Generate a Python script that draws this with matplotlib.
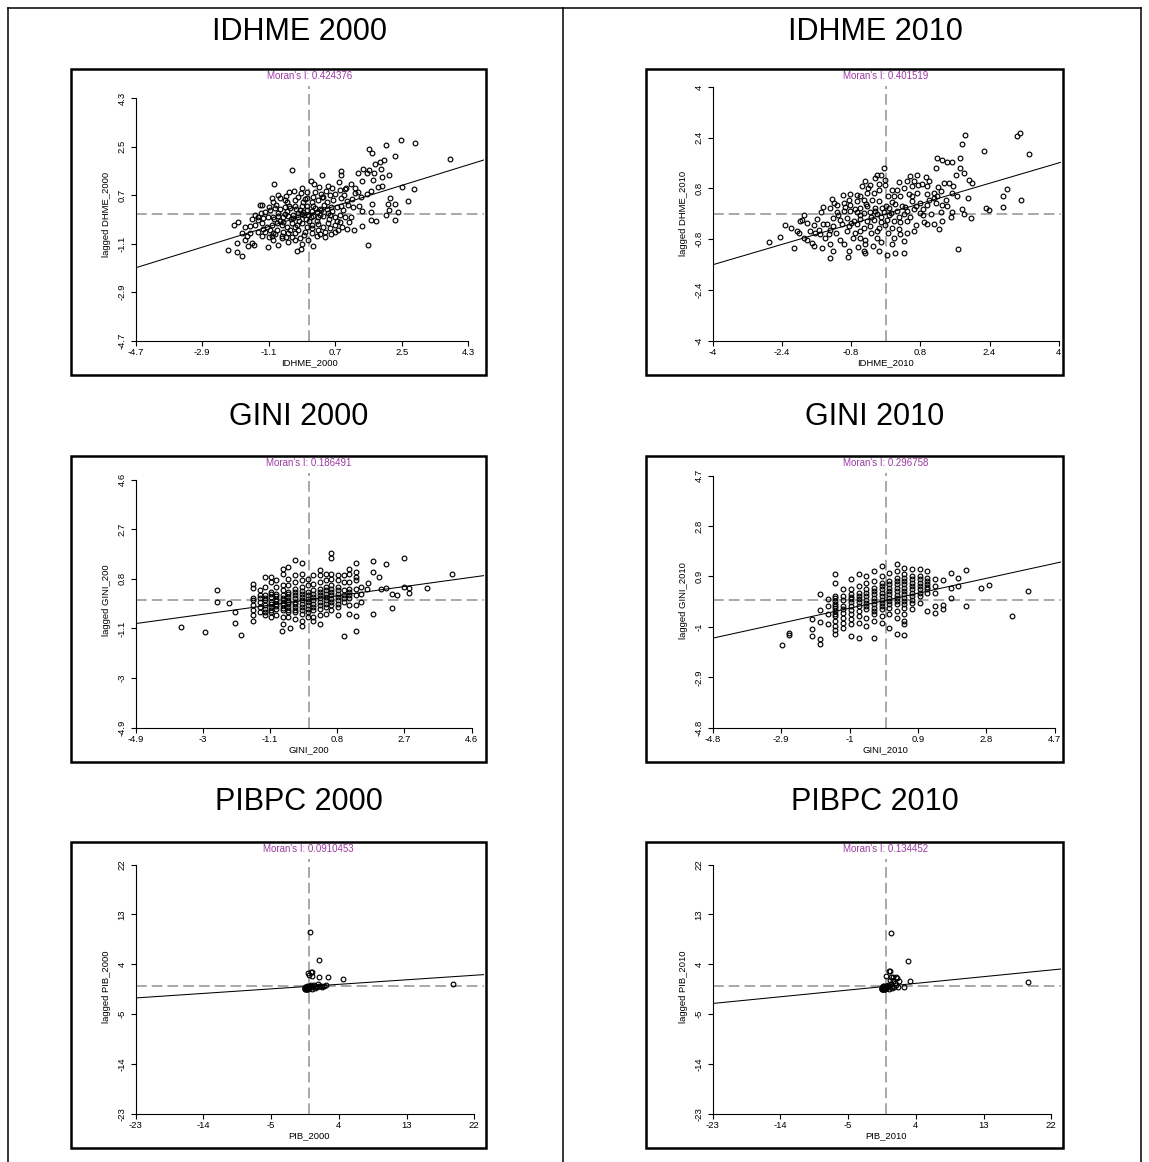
import numpy as np
import matplotlib.pyplot as plt
import matplotlib.transforms as mtransforms
from matplotlib.patches import Rectangle

plt.rcParams['font.family'] = ['Liberation Sans', 'DejaVu Sans']

W, H = 1149, 1162

# (standardized value, spatially lagged value) per municipality
idhme_2000 = [
    (2.47, 2.75), (2.86, 2.65), (2.09, 2.55), (1.62, 2.40), (1.70, 2.28), (2.32, 2.17), (2.02, 2.01), (1.91, 1.92),
    (1.77, 1.86), (3.81, 2.03), (-0.48, 1.64), (1.46, 1.67), (0.86, 1.59), (0.35, 1.46), (0.87, 1.46), (1.32, 1.52),
    (1.55, 1.53), (1.61, 1.62), (1.75, 1.52), (1.95, 1.67), (2.16, 1.43), (1.98, 1.37), (1.73, 1.25), (0.80, 1.19),
    (1.14, 1.13), (1.43, 1.23), (-0.95, 1.10), (0.04, 1.23), (0.12, 1.13), (1.00, 0.96), (0.98, 0.91), (1.23, 0.78),
    (1.31, 0.81), (1.66, 0.86), (1.86, 1.00), (1.97, 1.04), (2.84, 0.92), (2.50, 1.00), (2.18, 0.58), (2.66, 0.48),
    (2.14, 0.37), (2.32, 0.37), (1.71, 0.39), (1.41, 0.64), (1.44, 0.12), (1.68, 0.07), (2.15, 0.15), (2.39, 0.09),
    (2.09, -0.04), (1.68, -0.22), (1.80, -0.25), (2.32, -0.22), (1.44, -0.44), (1.59, -1.15),
    (-2.21, -1.35), (-2.05, -0.40), (-1.92, -0.28), (-1.96, -1.08), (-1.83, -1.57), (-1.95, -1.42), (-1.74, -0.49),
    (-1.69, -0.83), (-1.60, -0.71), (-1.56, -1.08), (-1.65, -1.18), (-1.49, -1.14), (-1.83, -0.71), (-1.56, -0.20),
    (-1.47, -0.04), (-1.38, -0.22), (-1.33, 0.32), (-1.29, 0.32), (-1.11, -1.24), (-0.97, -0.96), (-0.93, -0.74),
    (-0.84, -1.14), (-0.75, -0.89), (-0.59, -1.02), (-0.57, -0.71), (-0.39, -0.71), (-0.34, -1.38), (-0.23, -1.30),
    (-0.19, -1.13), (0.11, -1.18), (0.42, -0.87), (0.60, -0.75), (0.69, -0.65), (0.89, -0.49), (1.01, -0.56),
    (-1.02, 0.58), (-0.97, 0.45), (-0.79, 0.58), (-0.66, 0.51), (-0.55, 0.82), (-0.41, 0.85), (-0.23, 0.78),
    (-0.07, 0.82), (0.15, 0.82), (0.32, 0.76), (0.38, 0.64), (0.56, 0.70), (0.69, 0.76), (0.83, 0.88),
    (-1.20, 0.09), (-1.06, 0.15), (-0.93, 0.21), (-0.79, 0.17), (-0.66, 0.27), (-0.52, 0.21), (-0.39, 0.29),
    (-0.25, 0.15), (-0.16, 0.09), (-0.07, 0.15), (0.06, 0.12), (0.20, 0.09), (0.33, 0.15), (0.47, 0.17),
    (0.60, 0.25), (0.74, 0.27), (0.87, 0.29), (1.05, 0.33), (1.19, 0.27),
    (-1.38, -0.12), (-1.24, -0.16), (-1.11, -0.12), (-0.97, -0.10), (-0.84, -0.07), (-0.70, -0.12), (-0.57, -0.07),
    (-0.43, -0.04), (-0.30, -0.10), (-0.19, 0.00), (-0.03, -0.04), (0.11, -0.07), (0.24, -0.12), (0.38, -0.07),
    (0.56, -0.04), (0.69, -0.12), (0.83, -0.04), (0.96, -0.10), (1.14, -0.12),
    (-1.47, -0.40), (-1.29, -0.34), (-1.15, -0.47), (-1.02, -0.40), (-0.88, -0.32), (-0.75, -0.40), (-0.61, -0.47),
    (-0.48, -0.34), (-0.34, -0.40), (-0.21, -0.32), (-0.07, -0.47), (0.06, -0.40), (0.24, -0.37), (0.38, -0.47),
    (0.51, -0.34), (0.69, -0.40), (0.83, -0.28),
    (-1.20, -0.65), (-1.06, -0.59), (-0.88, -0.59), (-0.70, -0.65), (-0.52, -0.59), (-0.30, -0.59), (-0.12, -0.65),
    (0.06, -0.71), (0.24, -0.59), (0.42, -0.65),
    (-1.29, -0.83), (-1.02, -0.81), (-0.75, -0.81), (-0.48, -0.86), (-0.25, -0.89), (-0.03, -0.96), (0.20, -0.83),
    (-0.61, 0.45), (-0.39, 0.51), (-0.16, 0.45), (0.06, 0.45), (0.24, 0.51), (0.47, 0.45), (0.65, 0.51),
    (0.87, 0.58), (1.01, 0.49),
    (-0.30, 0.05), (-0.10, -0.20), (0.10, 0.30), (-0.50, -0.20), (0.30, 0.20), (-0.20, 0.30), (0.00, -0.25),
    (-0.60, 0.10), (0.50, 0.05), (-0.80, -0.25), (0.20, -0.25), (-0.40, -0.50), (-0.05, 0.60), (-0.90, 0.35),
    (0.35, 0.65),
    (-1.10, 0.25), (-0.95, -0.20), (-0.85, 0.05), (-0.72, -0.28), (-0.65, 0.00), (-0.55, 0.30), (-0.45, -0.15),
    (-0.35, 0.20), (-0.28, -0.25), (-0.15, -0.05), (-0.05, 0.30), (0.05, -0.12), (0.15, 0.22), (0.28, -0.02),
    (0.40, 0.32), (0.52, -0.20), (0.62, 0.10), (0.75, -0.25), (0.92, 0.15), (1.08, -0.30),
    (-1.25, -0.55), (-0.98, -0.72), (-0.62, -0.85), (-0.40, -0.95), (-0.15, -0.78), (0.08, -0.52), (0.30, -0.75),
    (0.55, -0.52), (0.78, -0.58), (-0.85, 0.70), (-0.62, 0.68), (-0.30, 0.62), (-0.12, 0.55), (0.10, 0.65),
    (0.45, 0.85), (0.62, 0.95), (0.95, 0.70), (1.15, 0.55), (1.25, 0.95), (1.55, 0.75),
    (-1.60, -0.45), (-1.75, -0.95), (-1.40, -0.65), (-1.30, 0.05), (-1.10, -0.85), (-0.20, 0.95), (0.25, 1.00),
    (0.50, 1.05), (1.20, -0.60), (1.35, 0.30),
]

idhme_2010 = [
    (1.83, 2.49), (1.77, 2.21), (3.10, 2.54), (3.04, 2.46), (3.32, 1.89), (2.26, 1.97), (1.19, 1.76), (1.31, 1.71),
    (1.42, 1.62), (1.54, 1.62), (1.72, 1.76), (1.15, 1.44), (1.72, 1.44), (1.62, 1.23), (1.81, 1.29), (1.92, 1.08),
    (2.00, 0.97), (1.34, 0.97), (1.46, 0.97), (1.55, 0.87), (1.54, 0.66), (1.27, 0.71), (1.19, 0.55), (1.11, 0.50),
    (1.89, 0.50), (2.72, 0.55), (2.81, 0.78), (3.12, 0.45), (2.72, 0.21), (2.31, 0.17), (2.39, 0.12), (1.77, 0.16),
    (1.81, -0.02), (1.98, -0.13), (1.68, -1.10), (1.23, -0.49), (0.96, -0.31), (1.11, -0.33), (0.88, -0.26),
    (1.31, -0.23), (1.51, -0.10),
    (0.73, 1.23), (0.92, 1.15), (0.65, 1.03), (0.49, 1.05), (0.84, 0.94), (0.96, 0.87), (0.61, 0.87), (0.42, 0.82),
    (0.26, 0.76), (0.34, 0.55), (0.53, 0.61), (0.73, 0.66), (0.96, 0.61), (1.11, 0.66), (0.61, 0.40), (0.80, 0.35),
    (0.96, 0.29), (1.15, 0.35), (1.31, 0.29), (1.42, 0.24), (1.54, 0.06), (1.27, 0.06), (1.04, -0.02), (0.80, 0.03),
    (0.65, 0.14), (0.49, 0.08), (0.38, 0.24),
    (-0.05, 1.44), (-0.12, 1.23), (-0.20, 1.21), (-0.24, 1.13), (-0.36, 0.92), (-0.47, 1.03), (-0.55, 0.87),
    (-0.01, 1.08), (-0.01, 0.92), (-0.16, 0.76), (-0.28, 0.66), (-0.43, 0.66), (-0.59, 0.55), (-0.66, 0.59),
    (-0.82, 0.61), (-0.99, 0.58), (-1.24, 0.48), (-1.44, 0.21), (-1.28, 0.19), (-1.13, 0.29), (-0.97, 0.35),
    (-0.82, 0.29), (-0.66, 0.40), (-0.51, 0.45), (-0.32, 0.45), (-0.16, 0.40), (0.15, 0.75), (0.19, 0.55),
    (0.15, 0.38), (0.07, 0.19), (-0.09, 0.19), (-0.24, 0.19), (-0.43, 0.24), (-0.59, 0.19),
    (-1.13, 0.06), (-0.97, 0.08), (-0.82, 0.10), (-0.66, 0.06), (-0.51, 0.03), (-0.36, 0.06), (-0.20, 0.00),
    (-0.05, 0.06), (0.11, 0.03), (0.26, 0.08), (0.42, 0.00),
    (-1.21, -0.13), (-1.05, -0.18), (-0.90, -0.13), (-0.74, -0.23), (-0.59, -0.15), (-0.43, -0.23), (-0.28, -0.18),
    (-0.12, -0.25), (0.03, -0.18), (0.19, -0.23), (0.34, -0.26), (0.49, -0.23),
    (-1.36, -0.33), (-1.21, -0.39), (-1.01, -0.33), (-0.86, -0.39), (-0.66, -0.33), (-0.51, -0.44), (-0.36, -0.39),
    (-0.16, -0.44), (-0.01, -0.36), (0.15, -0.44), (0.30, -0.49),
    (-2.71, -0.88), (-2.44, -0.72), (-2.33, -0.36), (-2.13, -1.09), (-2.06, -0.54), (-1.98, -0.23), (-1.94, -0.18),
    (-1.90, -0.77), (-1.82, -0.28), (-1.67, -0.36), (-1.63, -0.60), (-1.55, -0.52), (-1.51, -0.65), (-1.82, -0.81),
    (-1.71, -0.91), (-1.67, -1.01), (-1.48, -1.07), (-1.44, -0.33), (-1.40, -0.75), (-1.32, -0.65), (-1.28, -0.96),
    (-1.21, -1.17), (-1.28, -1.38), (-1.05, -0.81), (-0.97, -0.96), (-0.86, -1.17), (-0.88, -1.36), (-0.70, -0.60),
    (-0.59, -0.75), (-0.47, -0.81), (-0.47, -0.94), (-0.51, -1.17), (-0.47, -1.22), (-0.16, -1.17), (-0.12, -0.88),
    (-0.20, -0.75), (0.03, -1.30), (0.22, -1.22), (0.42, -1.22), (0.19, -0.75), (0.34, -0.65), (0.49, -0.60),
    (0.65, -0.54), (0.42, -0.86),
    (-1.10, -0.05), (-0.95, 0.20), (-0.80, -0.30), (-0.70, 0.15), (-0.60, -0.05), (-0.45, 0.30), (-0.35, -0.10),
    (-0.25, 0.10), (-0.12, -0.10), (0.00, 0.25), (0.08, -0.05), (0.22, 0.30), (0.30, -0.10), (0.45, 0.20),
    (0.55, -0.10), (0.70, 0.25), (0.85, 0.15), (1.00, 0.45),
    (-1.60, -0.15), (-1.50, 0.05), (-1.30, -0.50), (-1.15, -0.60), (-0.90, -0.55), (-0.75, -0.75), (-0.60, -0.55),
    (-0.35, -0.60), (-0.20, -0.55), (0.05, -0.60), (0.15, -0.95), (-0.30, -1.00), (-0.65, -1.05),
    (-0.85, 0.45), (-0.40, 0.80), (-0.15, 0.95), (0.05, 0.55), (0.30, 1.00), (0.55, 1.20), (0.75, 0.90),
    (1.00, 1.05), (1.20, 0.85), (1.40, 0.45), (1.65, 0.55), (0.60, 0.55),
    (-2.00, -0.60), (-2.20, -0.45), (-1.75, -0.55), (-1.90, -0.05), (-1.20, 0.35), (0.70, -0.35), (0.85, -0.05),
]

gini_2000 = [
    (-3.63, -1.05), (-2.93, -1.25), (-1.93, -1.35), (-2.60, 0.36), (-2.60, -0.09), (-2.27, -0.13), (-2.08, -0.47),
    (-2.10, -0.89), (-0.76, -1.19), (-0.54, -1.09), (0.63, 1.77), (0.63, 1.58), (0.98, -1.40), (1.33, -1.18),
    (1.33, -0.64), (1.82, -0.56), (2.36, -0.31), (2.68, 1.60), (2.17, 1.35), (1.82, 1.48), (1.33, 1.42),
    (3.34, 0.45), (4.04, 1.00), (2.82, 0.45), (2.68, 0.49), (2.82, 0.26), (2.50, 0.17), (2.36, 0.21), (1.82, 1.07),
    (1.67, 0.65), (1.98, 0.87), (1.65, 0.42), (2.17, 0.45), (2.03, 0.42),
    (-1.57, 0.62), (-1.57, 0.45), (-1.57, -0.03), (-1.57, -0.22), (-1.57, -0.41), (-1.57, -0.60), (-1.57, -0.80),
    (-1.38, 0.36), (-1.38, 0.17), (-1.38, -0.09), (-1.38, -0.28), (-1.38, -0.47),
    (-1.24, 0.87), (-1.24, 0.49), (-1.24, 0.17), (-1.24, -0.03), (-1.24, -0.22), (-1.24, -0.47), (-1.24, -0.60),
    (-1.06, 0.87), (-1.06, 0.68), (-1.06, 0.30), (-1.06, 0.10), (-1.06, -0.09), (-1.06, -0.28), (-1.06, -0.47),
    (-1.06, -0.67),
    (-0.92, 0.74), (-0.92, 0.49), (-0.92, 0.23), (-0.92, 0.04), (-0.92, -0.15), (-0.92, -0.35), (-0.92, -0.60),
    (-0.73, 1.19), (-0.73, 1.00), (-0.73, 0.55), (-0.73, 0.36), (-0.73, 0.17), (-0.73, -0.03), (-0.73, -0.22),
    (-0.73, -0.41), (-0.73, -0.67), (-0.73, -0.92),
    (-0.59, 1.26), (-0.59, 0.81), (-0.59, 0.55), (-0.59, 0.30), (-0.59, 0.10), (-0.59, -0.09), (-0.59, -0.28),
    (-0.59, -0.47), (-0.59, -0.67),
    (-0.40, 1.51), (-0.40, 0.94), (-0.40, 0.68), (-0.40, 0.42), (-0.40, 0.17), (-0.40, -0.09), (-0.40, -0.28),
    (-0.40, -0.47), (-0.40, -0.73),
    (-0.21, 1.39), (-0.21, 1.00), (-0.21, 0.74), (-0.21, 0.49), (-0.21, 0.23), (-0.21, -0.03), (-0.21, -0.28),
    (-0.21, -0.54), (-0.21, -0.80), (-0.21, -0.99),
    (-0.03, 0.81), (-0.03, 0.55), (-0.03, 0.30), (-0.03, 0.04), (-0.03, -0.22), (-0.03, -0.47), (-0.03, -0.67),
    (0.11, 0.94), (0.11, 0.62), (0.11, 0.36), (0.11, 0.10), (0.11, -0.15), (0.11, -0.41), (0.11, -0.67),
    (0.11, -0.80),
    (0.30, 1.13), (0.30, 0.94), (0.30, 0.68), (0.30, 0.42), (0.30, 0.17), (0.30, -0.09), (0.30, -0.35),
    (0.30, -0.60), (0.30, -0.92),
    (0.49, 1.00), (0.49, 0.74), (0.49, 0.49), (0.49, 0.23), (0.49, -0.03), (0.49, -0.28), (0.49, -0.54),
    (0.63, 1.00), (0.63, 0.81), (0.63, 0.55), (0.63, 0.30), (0.63, 0.04), (0.63, -0.22), (0.63, -0.41),
    (0.81, 0.94), (0.81, 0.74), (0.81, 0.49), (0.81, 0.23), (0.81, -0.03), (0.81, -0.28), (0.81, -0.60),
    (0.98, 0.94), (0.98, 0.68), (0.98, 0.36), (0.98, 0.17), (0.98, -0.09),
    (1.14, 1.19), (1.14, 1.00), (1.14, 0.68), (1.14, 0.42), (1.14, 0.17), (1.14, -0.22), (1.14, -0.54),
    (1.33, 1.07), (1.33, 0.87), (1.33, 0.74), (1.33, 0.42), (1.33, 0.17), (1.33, -0.22),
    (1.47, 0.49), (1.47, 0.23), (1.47, -0.09),
    (-1.57, 0.08), (-1.38, 0.05), (-1.24, 0.05), (-1.24, -0.35), (-1.06, 0.20), (-1.06, -0.18), (-1.06, -0.38),
    (-0.92, 0.13), (-0.92, -0.05), (-0.92, -0.25), (-0.73, 0.07), (-0.73, -0.12), (-0.73, -0.32), (-0.59, 0.20),
    (-0.59, 0.00), (-0.59, -0.18), (-0.59, -0.38), (-0.40, 0.30), (-0.40, 0.05), (-0.40, -0.18), (-0.40, -0.38),
    (-0.21, 0.35), (-0.21, 0.10), (-0.21, -0.15), (-0.21, -0.40), (-0.03, 0.17), (-0.03, -0.09), (-0.03, -0.35),
    (0.11, 0.23), (0.11, -0.02), (0.11, -0.28), (0.30, 0.30), (0.30, 0.05), (0.30, -0.22), (0.49, 0.36),
    (0.49, 0.10), (0.49, -0.15), (0.63, 0.42), (0.63, 0.17), (0.63, -0.09), (0.81, 0.36), (0.81, 0.10),
    (0.81, -0.15), (0.98, 0.05), (1.14, 0.30), (1.14, 0.05),
]

gini_2010 = [
    (-2.87, -1.69), (-2.69, -1.22), (-2.69, -1.31), (-2.04, -1.35), (-1.83, -1.47), (-1.83, -1.64), (-2.04, -1.09),
    (-2.04, -0.72), (-1.83, -0.81), (-1.83, -0.38), (-1.83, 0.23), (-1.61, 0.06), (-1.61, -0.21), (-1.61, -0.53),
    (-1.61, -0.88), (-1.40, 0.98), (-1.40, 0.67), (3.96, 0.35), (3.50, -0.59), (2.65, 0.45), (2.86, 0.58),
    (2.24, 1.14), (2.24, -0.21), (1.82, 1.04), (1.82, 0.48), (1.82, 0.08), (1.59, 0.77), (1.59, -0.19),
    (1.59, -0.34), (1.36, -0.21), (1.36, -0.49), (1.16, -0.40), (2.01, 0.86), (2.01, 0.54),
    (-1.40, 0.16), (-1.40, -0.03), (-1.40, -0.21), (-1.40, -0.40), (-1.40, -0.59), (-1.40, -0.78), (-1.40, -0.97),
    (-1.40, -1.12), (-1.40, -1.28),
    (-1.19, 0.42), (-1.19, 0.16), (-1.19, -0.21), (-1.19, -0.46), (-1.19, -0.65), (-1.19, -0.84), (-1.19, -1.03),
    (-0.97, 0.79), (-0.97, 0.42), (-0.97, 0.23), (-0.97, 0.04), (-0.97, -0.21), (-0.97, -0.53), (-0.97, -0.72),
    (-0.97, -0.91), (-0.97, -1.35),
    (-0.75, 0.98), (-0.75, 0.54), (-0.75, 0.29), (-0.75, 0.04), (-0.75, -0.21), (-0.75, -0.59), (-0.75, -0.84),
    (-0.75, -1.41),
    (-0.54, 0.92), (-0.54, 0.67), (-0.54, 0.42), (-0.54, 0.16), (-0.54, -0.09), (-0.54, -0.34), (-0.54, -0.65),
    (-0.54, -0.97),
    (-0.32, 1.11), (-0.32, 0.73), (-0.32, 0.48), (-0.32, 0.23), (-0.32, -0.03), (-0.32, -0.28), (-0.32, -0.53),
    (-0.32, -0.78), (-0.32, -1.41),
    (-0.11, 1.30), (-0.11, 0.92), (-0.11, 0.67), (-0.11, 0.42), (-0.11, 0.16), (-0.11, -0.09), (-0.11, -0.34),
    (-0.11, -0.59), (-0.11, -0.84),
    (0.10, 1.04), (0.10, 0.73), (0.10, 0.48), (0.10, 0.23), (0.10, -0.03), (0.10, -0.28), (0.10, -0.53),
    (0.10, -1.03),
    (0.32, 1.36), (0.32, 1.11), (0.32, 0.86), (0.32, 0.60), (0.32, 0.35), (0.32, 0.10), (0.32, -0.15),
    (0.32, -0.40), (0.32, -0.65), (0.32, -1.28),
    (0.52, 1.23), (0.52, 0.98), (0.52, 0.73), (0.52, 0.48), (0.52, 0.23), (0.52, -0.03), (0.52, -0.28),
    (0.52, -0.53), (0.52, -0.78), (0.52, -0.91), (0.52, -1.32),
    (0.72, 1.17), (0.72, 0.92), (0.72, 0.67), (0.72, 0.42), (0.72, 0.16), (0.72, -0.09), (0.72, -0.34),
    (0.95, 1.17), (0.95, 0.92), (0.95, 0.67), (0.95, 0.42), (0.95, 0.16), (0.95, -0.09),
    (1.16, 1.11), (1.16, 0.86), (1.16, 0.60), (1.16, 0.42), (1.16, 0.29),
    (1.38, 0.79), (1.38, 0.54), (1.38, 0.29),
    (-1.40, 0.07), (-1.40, -0.12), (-1.40, -0.30), (-1.40, -0.50), (-1.19, 0.03), (-1.19, -0.34), (-0.97, 0.13),
    (-0.97, -0.08), (-0.97, -0.37), (-0.75, 0.16), (-0.75, -0.08), (-0.75, -0.40), (-0.54, 0.29), (-0.54, 0.03),
    (-0.54, -0.22), (-0.32, 0.35), (-0.32, 0.10), (-0.32, -0.15), (-0.32, -0.40), (-0.11, 0.54), (-0.11, 0.29),
    (-0.11, 0.03), (-0.11, -0.22), (0.10, 0.60), (0.10, 0.35), (0.10, 0.10), (0.10, -0.15), (0.32, 0.73),
    (0.32, 0.48), (0.32, 0.22), (0.32, -0.03), (0.52, 0.85), (0.52, 0.60), (0.52, 0.35), (0.52, 0.10),
    (0.52, -0.15), (0.72, 0.80), (0.72, 0.54), (0.72, 0.29), (0.72, 0.03), (0.95, 0.80), (0.95, 0.54),
    (0.95, 0.29), (1.16, 0.73), (1.16, 0.50),
]

pib_2000 = [
    (0.22, 9.80), (1.40, 4.70), (-0.05, 2.50), (0.30, 2.60), (0.50, 2.60), (0.10, 2.00), (0.40, 1.85),
    (1.40, 1.70), (2.50, 1.60), (4.60, 1.25), (19.20, 0.48),
    (-0.55, -0.35), (-0.50, -0.30), (-0.45, -0.40), (-0.40, -0.25), (-0.35, -0.35), (-0.30, -0.30), (-0.25, -0.40),
    (-0.20, -0.20), (-0.15, -0.30), (-0.10, -0.35), (-0.50, -0.10), (-0.40, -0.05), (-0.30, -0.15), (-0.20, 0.00),
    (-0.10, -0.10), (0.00, 0.10), (0.10, -0.20), (0.20, 0.05), (-0.45, -0.50), (-0.35, -0.55), (-0.25, -0.45),
    (-0.15, -0.50), (-0.05, -0.40), (0.05, -0.25), (0.30, 0.20), (0.50, -0.10), (0.70, 0.30), (0.90, 0.00),
    (1.10, -0.20), (1.30, 0.10), (1.60, 0.15), (2.00, 0.10), (0.40, -0.50), (0.80, -0.30), (1.20, 0.40),
    (1.70, -0.20), (2.30, 0.30),
]

pib_2010 = [
    (0.66, 9.70), (2.90, 4.60), (0.40, 2.70), (0.60, 2.70), (0.10, 1.80), (0.75, 1.74), (1.40, 1.74),
    (1.55, 1.44), (1.75, 0.96), (3.20, 1.05), (2.40, -0.10), (1.00, 1.60), (0.60, 1.20), (18.90, 0.84),
    (-0.55, -0.40), (-0.50, -0.30), (-0.45, -0.45), (-0.40, -0.20), (-0.35, -0.35), (-0.30, -0.30), (-0.25, -0.45),
    (-0.20, -0.15), (-0.15, -0.30), (-0.10, -0.40), (-0.50, -0.05), (-0.40, 0.00), (-0.30, -0.10), (-0.20, 0.05),
    (-0.10, -0.05), (0.00, 0.15), (0.10, -0.20), (0.20, 0.10), (-0.45, -0.55), (-0.35, -0.50), (-0.25, -0.55),
    (-0.15, -0.50), (-0.05, -0.45), (0.05, -0.30), (0.30, 0.30), (0.50, -0.10), (0.70, 0.45), (0.90, 0.10),
    (1.10, -0.20), (1.20, 0.60), (1.40, 0.20), (0.40, -0.45), (0.80, -0.30), (1.00, 0.90), (1.60, -0.15),
]

titles = ['IDHME 2000', 'IDHME 2010', 'GINI 2000', 'GINI 2010', 'PIBPC 2000', 'PIBPC 2010']
moran_i = [0.424376, 0.401519, 0.186491, 0.296758, 0.0910453, 0.134452]
x_labels = ['IDHME_2000', 'IDHME_2010', 'GINI_200', 'GINI_2010', 'PIB_2000', 'PIB_2010']
y_labels = ['lagged DHME_2000', 'lagged DHME_2010', 'lagged GINI_200', 'lagged GINI_2010',
            'lagged PIB_2000', 'lagged PIB_2010']
tick_labels = [
    ['-4.7', '-2.9', '-1.1', '0.7', '2.5', '4.3'],
    ['-4', '-2.4', '-0.8', '0.8', '2.4', '4'],
    ['-4.9', '-3', '-1.1', '0.8', '2.7', '4.6'],
    ['-4.8', '-2.9', '-1', '0.9', '2.8', '4.7'],
    ['-23', '-14', '-5', '4', '13', '22'],
    ['-23', '-14', '-5', '4', '13', '22'],
]
series = [idhme_2000, idhme_2010, gini_2000, gini_2010, pib_2000, pib_2010]
# plotting window (x max, y max); lower limits are the first tick
upper = [(4.73, 4.75), (4.05, 4.03), (4.95, 4.85), (4.87, 4.8), (23.3, 23.0), (23.3, 23.0)]

fig = plt.figure(figsize=(W / 100, H / 100), dpi=100)

# page layer in pixel units: table rules, boxes, headings
bg = fig.add_axes([0, 0, 1, 1])
bg.set_xlim(0, W)
bg.set_ylim(H, 0)
bg.axis('off')
for xr in (8, 563, 1141):
    bg.plot([xr, xr], [8, H], color='black', lw=1.1)
bg.plot([8, 1141], [8, 8], color='black', lw=1.1)

col_frame = [(71, 486), (646, 1063)]
col_axes = [(135.7, 484), (712.7, 1061)]
col_title = [299, 875]
row_frame = [69, 456, 842]
row_title = [32, 417, 802]

for i in range(6):
    r, c = divmod(i, 2)
    fl, fr = col_frame[c]
    ft = row_frame[r]
    bg.add_patch(Rectangle((fl, ft), fr - fl, 306, fill=False, ec='black', lw=1.8))
    bg.text(col_title[c], row_title[r], titles[i], fontsize=22, ha='center', va='center')

    al, ar = col_axes[c]
    at, ab = ft + 17, ft + 271.7
    ax = fig.add_axes([al / W, 1 - ab / H, (ar - al) / W, (ab - at) / H])
    ax.set_facecolor('none')

    ticks = [float(t) for t in tick_labels[i]]
    xmax, ymax = upper[i]
    ax.set_xlim(ticks[0], xmax)
    ax.set_ylim(ticks[0], ymax)

    pts = np.array(series[i])
    ax.plot(pts[:, 0], pts[:, 1], 'o', ms=3.4, mfc='none', mec='black', mew=0.85, zorder=3)

    ax.axvline(0, color='#a8a8a8', lw=1.4, ls=(0, (5.5, 2.6)), zorder=1)
    ax.axhline(0, color='#a8a8a8', lw=1.4, ls=(0, (5.5, 2.6)), zorder=1)

    xs = np.array([ticks[0], xmax])
    ax.plot(xs, moran_i[i] * xs, color='black', lw=0.75, zorder=2)

    for side in ('top', 'right'):
        ax.spines[side].set_visible(False)
    ax.spines['left'].set_bounds(ticks[0], ticks[-1])
    ax.spines['bottom'].set_bounds(ticks[0], ticks[-1])
    ax.spines['left'].set_linewidth(0.8)
    ax.spines['bottom'].set_linewidth(0.8)

    ax.set_xticks(ticks)
    ax.set_xticklabels(tick_labels[i])
    ax.set_yticks(ticks)
    ax.set_yticklabels(tick_labels[i], rotation=90, va='center')
    ax.tick_params(direction='out', length=3.5, width=0.8, labelsize=6.8)
    ax.tick_params(axis='x', pad=2.0)
    ax.tick_params(axis='y', pad=3.0)

    xz = mtransforms.blended_transform_factory(ax.transData, ax.transAxes)
    yz = mtransforms.blended_transform_factory(ax.transAxes, ax.transData)
    ax.annotate("Moran's I: " + str(moran_i[i]), xy=(0, 1), xycoords=xz, xytext=(0, 10),
                textcoords='offset pixels', ha='center', va='center', fontsize=7,
                color='#9b3aa3', annotation_clip=False)
    ax.annotate(x_labels[i], xy=(0, 0), xycoords=xz, xytext=(0, -22), textcoords='offset pixels',
                ha='center', va='center', fontsize=6.8, annotation_clip=False)
    ax.annotate(y_labels[i], xy=(0, 0), xycoords=yz, xytext=(-29, 0), textcoords='offset pixels',
                ha='center', va='center', fontsize=6.8, rotation=90, annotation_clip=False)

fig.savefig('out.png', dpi=100)
